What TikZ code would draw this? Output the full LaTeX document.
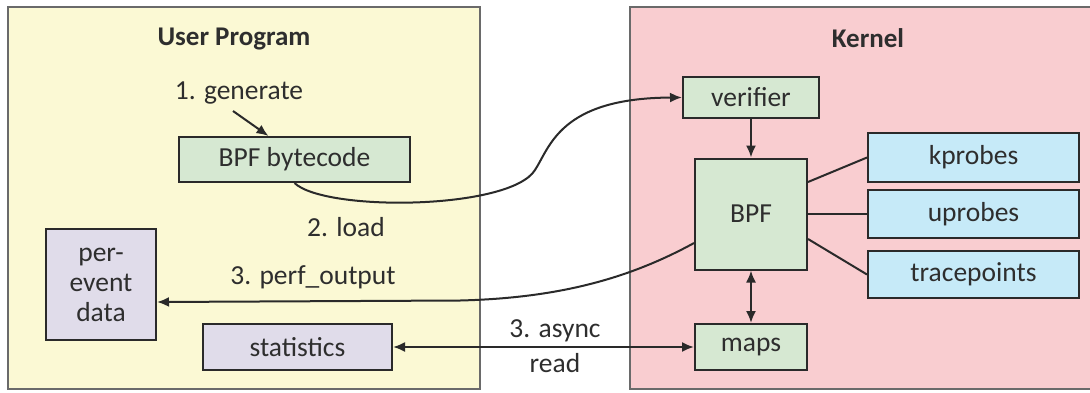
\documentclass[tikz,border=0pt]{standalone}
\usepackage{fontspec}
\setmainfont{Carlito}
\usetikzlibrary{arrows.meta,calc}
\definecolor{uyellow}{HTML}{FBF9D4}
\definecolor{kpink}{HTML}{F9CDD0}
\definecolor{bgreen}{HTML}{D6E8D2}
\definecolor{pblue}{HTML}{C6EAF8}
\definecolor{ppurple}{HTML}{E0DCEA}
\definecolor{txt}{HTML}{2E2E2E}
\definecolor{edge}{HTML}{2A2A2A}
\definecolor{outer}{HTML}{6A6A6A}
\tikzset{
  container/.style={draw=outer, line width=1.5pt, inner sep=0pt},
  boxnode/.style={draw=edge, line width=2pt, inner sep=0pt, text=txt, font=\fontsize{27.5}{30}\selectfont, align=center},
  greenbox/.style={boxnode, fill=bgreen},
  bluebox/.style={boxnode, fill=pblue},
  purplebox/.style={boxnode, fill=ppurple},
  title/.style={text=txt, font=\fontsize{27}{30}\selectfont\bfseries},
  lbl/.style={text=txt, font=\fontsize{27.5}{30}\selectfont, align=center, inner sep=0pt},
  conn/.style={draw=edge, line width=2pt},
  arr/.style={conn, -{Latex[length=12pt,width=10pt]}},
  darr/.style={conn, {Latex[length=12pt,width=10pt]}-{Latex[length=12pt,width=10pt]}},
}
\begin{document}
\begin{tikzpicture}[x=1pt,y=-1pt]
\useasboundingbox (0,0) rectangle (1090,392);
\clip (0,0) rectangle (1090,392);
\fill[white] (0,0) rectangle (1090,392);
% containers
\node[container, fill=uyellow, minimum width=472pt, minimum height=382pt] (userbox) at (244,198) {};
\node[container, fill=kpink, minimum width=480pt, minimum height=382pt] (kernelbox) at (870,198) {};
\node[title] (usertitle) at (234,39) {User Program};
\node[title] (kerneltitle) at (868,38) {Kernel};
% user side
\node[lbl] (genlbl) at (239,93) {1. generate};
\node[greenbox, minimum width=231pt, minimum height=45pt] (bytecode) at (294.5,159.5) {BPF bytecode};
\node[lbl] (loadlbl) at (346,227) {2. load};
\node[purplebox, minimum width=110pt, minimum height=111pt] (per) at (101,284.5) {per-\\event\\data};
\node[lbl] (perflbl) at (313,277) {3. perf\_output};
\node[purplebox, minimum width=189pt, minimum height=46pt] (stats) at (297.5,347) {statistics};
\node[lbl, font=\fontsize{27.5}{35}\selectfont] (asynclbl) at (555,346) {3. async\\read};
% kernel side
\node[greenbox, minimum width=136pt, minimum height=41pt] (verifier) at (751,97.5) {verifier};
\node[greenbox, minimum width=112pt, minimum height=111pt] (bpf) at (751,214) {BPF};
\node[greenbox, minimum width=112pt, minimum height=46pt] (maps) at (751,347) {maps};
\node[bluebox, minimum width=211pt, minimum height=49pt] (kprobes) at (973.5,157.5) {kprobes};
\node[bluebox, minimum width=211pt, minimum height=48pt] (uprobes) at (973.5,214) {uprobes};
\node[bluebox, minimum width=211pt, minimum height=47pt] (tracepoints) at (973.5,274.5) {tracepoints};
% connectors
\coordinate (genstart) at (233,111);
\draw[arr] (genstart) -- ([xshift=-26pt]bytecode.north);
\coordinate (loadmid) at (535,170);
\draw[arr] (bytecode.south) .. controls (325,212) and (510,210) .. (loadmid)
  .. controls (550,147) and (560,98) .. (verifier.west);
\draw[arr] (verifier.south) -- (bpf.north);
\draw[darr] (bpf.south) -- (maps.north);
\draw[darr] (stats.east) -- (maps.west);
\draw[arr] (bpf.207) .. controls (630,278) and (560,298) .. (460,300.5) -- ([yshift=-17.5pt]per.east);
\draw[conn] ([yshift=32pt]bpf.east) -- (kprobes.west);
\draw[conn] (bpf.east) -- (uprobes.west);
\draw[conn] ([yshift=-25pt]bpf.east) -- (tracepoints.west);
\end{tikzpicture}
\end{document}
